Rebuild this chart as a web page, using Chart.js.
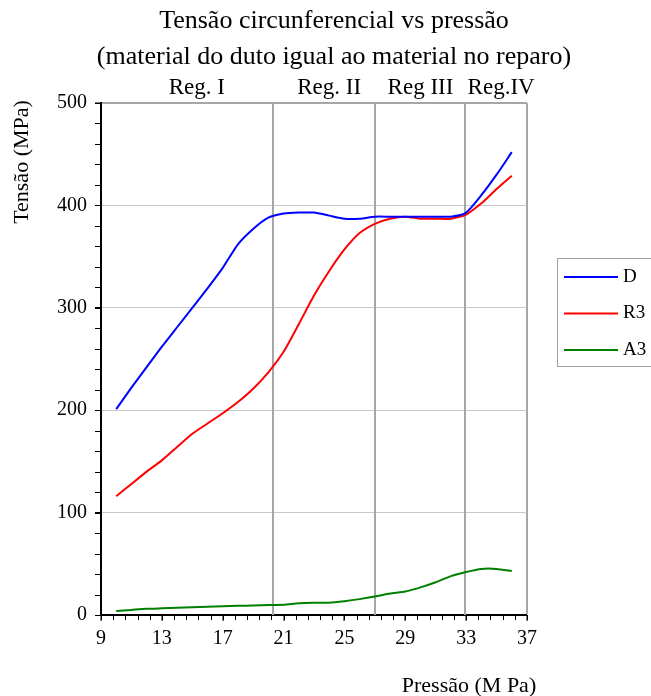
<!DOCTYPE html>
<html>
<head>
<meta charset="utf-8">
<script src="https://cdn.jsdelivr.net/npm/chart.js@4/dist/chart.umd.min.js"></script>
<style>
  html, body { margin: 0; padding: 0; background: #ffffff; }
  #wrap { width: 651px; height: 696px; position: relative; }
</style>
</head>
<body>
<div id="wrap"><canvas id="c" width="651" height="696"></canvas></div>
<script>
// ---- data ----
const pressao = [10, 11, 12, 13, 14, 15, 16, 17, 18, 19, 20, 21, 22, 23, 24, 25, 26, 27, 28, 29, 30, 31, 32, 33, 34, 35, 36];
const tensaoD  = [201, 222, 242, 262, 281, 300, 319, 339, 362, 377, 388, 392, 393, 393, 390, 387, 387, 389, 389, 389, 389, 389, 389, 393, 410, 430, 452];
const tensaoR3 = [116, 128, 140, 151, 164, 177, 187, 197, 208, 221, 237, 257, 284, 312, 336, 357, 373, 382, 387, 389, 387, 387, 387, 391, 402, 416, 429];
const tensaoA3 = [4, 5, 6, 6.5, 7, 7.5, 8, 8.5, 9, 9.3, 9.7, 10, 11.5, 12, 12, 13.5, 15.5, 18, 21, 23, 27, 32, 38, 42, 45, 45, 43];
const seriesNames = ['D', 'R3', 'A3'];
const seriesColors = ['#0000ff', '#ff0000', '#008000'];
const xTicks = [9, 13, 17, 21, 25, 29, 33, 37];
const yTicks = [0, 100, 200, 300, 400, 500];
const regionBounds = [20.3, 27, 32.9];
const regionLabels = ['Reg. I', 'Reg. II', 'Reg III', 'Reg.IV'];
const regionLabelX = [15.3, 24.0, 30.0, 35.3];
const titleLines = ['Tensão circunferencial vs pressão', '(material do duto igual ao material no reparo)'];
const xTitle = 'Pressão (M Pa)';
const yTitle = 'Tensão (MPa)';

const SERIF = '"Liberation Serif", "Times New Roman", serif';

function toPoints(ys) { return pressao.map((x, i) => ({ x: x, y: ys[i] })); }

const overlay = {
  id: 'overlay',
  beforeDatasetsDraw(chart) {
    const ctx = chart.ctx, xs = chart.scales.x, a = chart.chartArea;
    ctx.save();
    ctx.strokeStyle = '#a6a6a6';
    ctx.lineWidth = 2;
    regionBounds.forEach(v => {
      const px = Math.round(xs.getPixelForValue(v));
      ctx.beginPath(); ctx.moveTo(px, a.top); ctx.lineTo(px, a.bottom); ctx.stroke();
    });
    ctx.restore();
  },
  afterDraw(chart) {
    const ctx = chart.ctx, xs = chart.scales.x, ys = chart.scales.y, a = chart.chartArea;
    ctx.save();
    // minor ticks
    ctx.strokeStyle = '#000';
    ctx.lineWidth = 1;
    for (let v = xs.min; v <= xs.max + 1e-6; v += 0.8) {
      const px = Math.round(xs.getPixelForValue(v)) + 0.5;
      ctx.beginPath(); ctx.moveTo(px, a.bottom); ctx.lineTo(px, a.bottom + 5); ctx.stroke();
    }
    for (let v = ys.min; v <= ys.max + 1e-6; v += 20) {
      const py = Math.round(ys.getPixelForValue(v)) + 0.5;
      ctx.beginPath(); ctx.moveTo(a.left - 6, py); ctx.lineTo(a.left, py); ctx.stroke();
    }
    ctx.fillStyle = '#000';
    ctx.textAlign = 'center';
    ctx.textBaseline = 'middle';
    // title
    ctx.font = '26px ' + SERIF;
    ctx.fillText(titleLines[0], 334, 21);
    ctx.fillText(titleLines[1], 334, 57);
    // region labels
    ctx.font = '23px ' + SERIF;
    regionLabels.forEach((t, i) => ctx.fillText(t, xs.getPixelForValue(regionLabelX[i]), 88));
    // axis titles
    ctx.font = '22px ' + SERIF;
    ctx.fillText(xTitle, 469, 686);
    ctx.save();
    ctx.translate(22, 162);
    ctx.rotate(-Math.PI / 2);
    ctx.fillText(yTitle, 0, 0);
    ctx.restore();
    // legend
    const lx = 557, ly = 258, lw = 120, lh = 108;
    ctx.strokeStyle = '#a0a0a0';
    ctx.lineWidth = 1;
    ctx.strokeRect(lx + 0.5, ly + 0.5, lw, lh);
    ctx.font = '19px ' + SERIF;
    ctx.textAlign = 'left';
    chart.data.datasets.forEach((ds, i) => {
      const yy = 277 + i * 36.5;
      ctx.strokeStyle = ds.borderColor;
      ctx.lineWidth = 2;
      ctx.beginPath(); ctx.moveTo(564, yy); ctx.lineTo(618, yy); ctx.stroke();
      ctx.fillStyle = '#000';
      ctx.fillText(ds.label, 623, yy);
    });
    ctx.restore();
  }
};

new Chart(document.getElementById('c'), {
  type: 'line',
  data: {
    datasets: [
      { label: seriesNames[0], data: toPoints(tensaoD),  borderColor: seriesColors[0] },
      { label: seriesNames[1], data: toPoints(tensaoR3), borderColor: seriesColors[1] },
      { label: seriesNames[2], data: toPoints(tensaoA3), borderColor: seriesColors[2] }
    ]
  },
  options: {
    responsive: false,
    animation: false,
    devicePixelRatio: 1,
    elements: {
      line: { borderWidth: 2, tension: 0.2, fill: false },
      point: { radius: 0, hoverRadius: 0 }
    },
    layout: { padding: { left: 0, top: 103, right: 124, bottom: 41 } },
    plugins: { legend: { display: false }, title: { display: false }, tooltip: { enabled: false } },
    scales: {
      x: {
        type: 'linear',
        min: 9, max: 37,
        afterBuildTicks: s => { s.ticks = xTicks.map(v => ({ value: v })); },
        afterFit: s => { s.height = 40; },
        ticks: { color: '#000', font: { family: SERIF, size: 20 }, padding: 6, maxRotation: 0, autoSkip: false },
        grid: {
          drawOnChartArea: true,
          color: c => (c.tick && c.tick.value === 37) ? '#a6a6a6' : 'rgba(0,0,0,0)',
          lineWidth: c => (c.tick && c.tick.value === 37) ? 2 : 0,
          tickColor: '#000', tickLength: 6, tickWidth: 1
        },
        border: { color: '#000', width: 2 }
      },
      y: {
        min: 0, max: 500,
        afterBuildTicks: s => { s.ticks = yTicks.map(v => ({ value: v })); },
        afterFit: s => { s.width = 101; },
        ticks: { color: '#000', font: { family: SERIF, size: 20 }, padding: 8 },
        grid: {
          drawOnChartArea: true,
          color: c => {
            const v = c.tick && c.tick.value;
            if (v === 0) return 'rgba(0,0,0,0)';
            if (v === 500) return '#a6a6a6';
            return '#c8c8c8';
          },
          lineWidth: c => (c.tick && c.tick.value === 500) ? 2 : 1,
          tickColor: '#000', tickLength: 6, tickWidth: 1
        },
        border: { color: '#000', width: 2 }
      }
    }
  },
  plugins: [overlay]
});
</script>
</body>
</html>
